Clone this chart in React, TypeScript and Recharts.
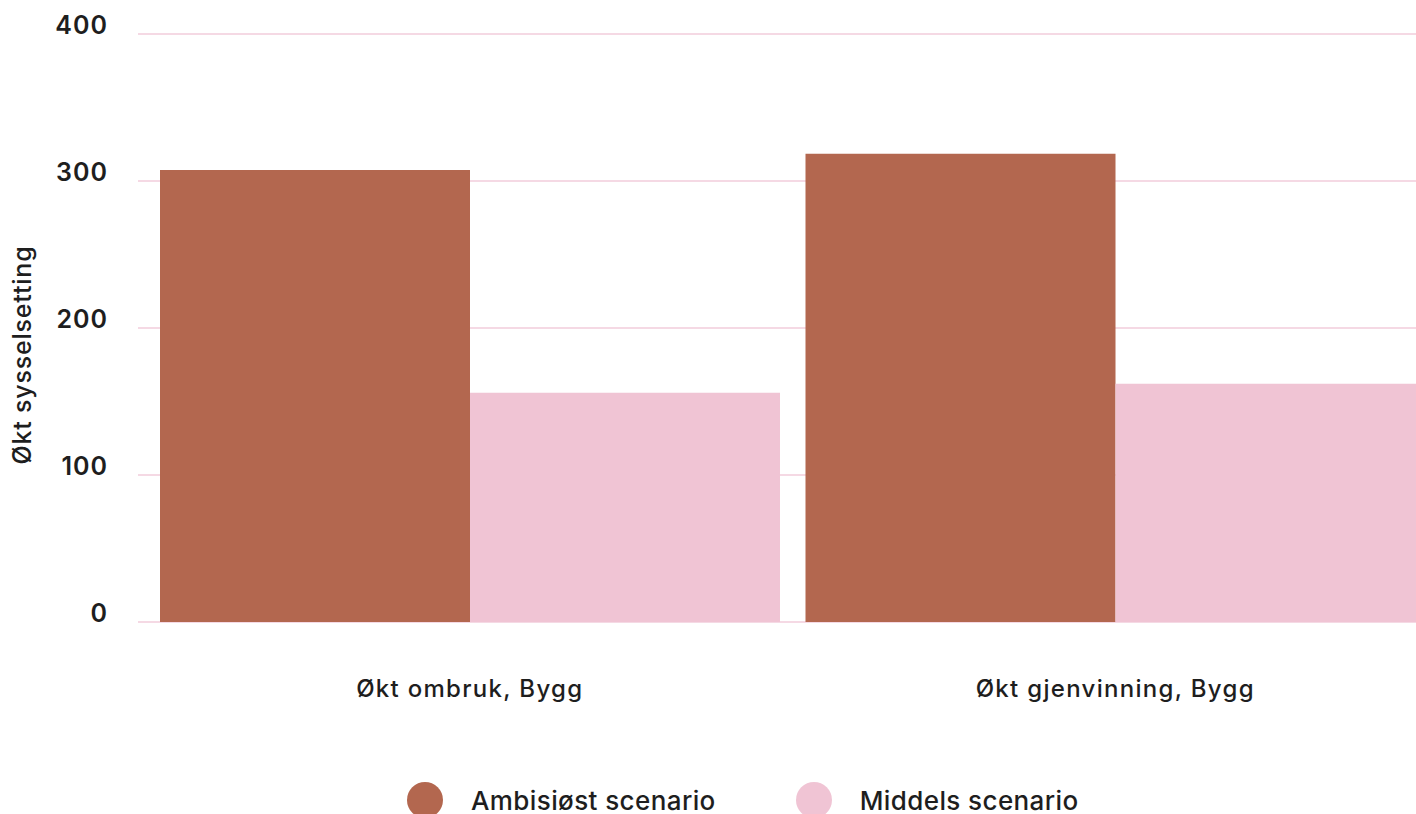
import React from "react";
import { BarChart, Bar, XAxis, YAxis, CartesianGrid, Legend } from "recharts";

const categories = ["Økt ombruk, Bygg", "Økt gjenvinning, Bygg"];
const ambisiost = [307.5, 318.5];
const middels = [156, 162];
const yTicks = [0, 100, 200, 300, 400];
const seriesNames = ["Ambisiøst scenario", "Middels scenario"];

const BROWN = "#B3674F";
const PINK = "#F0C4D4";
const TEXT = "#1e1e1e";
const FONT = "Inter, 'Noto Sans', sans-serif";

const data = categories.map((name, i) => ({
  name,
  ambisiost: ambisiost[i],
  middels: middels[i],
}));

const YLabel = (props: any) => {
  const { viewBox } = props;
  const x = viewBox.x + 22;
  const y = viewBox.y + viewBox.height / 2 + 27;
  return (
    <text
      x={x}
      y={y}
      transform={`rotate(-90 ${x} ${y})`}
      textAnchor="middle"
      dominantBaseline="central"
      fill={TEXT}
      fontSize={25}
      fontWeight={500}
      letterSpacing={0.8}
      fontFamily={FONT}
    >
      Økt sysselsetting
    </text>
  );
};

const renderLegend = (props: any) => {
  const { payload } = props;
  return (
    <div style={{ display: "flex", paddingLeft: 407, height: 68, fontFamily: FONT }}>
      {payload.map((entry: any, i: number) => (
        <div
          key={entry.value}
          style={{ display: "flex", alignItems: "center", height: 36, marginRight: i === 0 ? 80 : 0 }}
        >
          <span
            style={{ width: 36, height: 36, borderRadius: 18, background: entry.color, display: "inline-block" }}
          />
          <span style={{ marginLeft: 28, fontSize: 26, fontWeight: 500, letterSpacing: 0.4, color: TEXT }}>
            {entry.value}
          </span>
        </div>
      ))}
    </div>
  );
};

export default function App() {
  return (
    <div style={{ position: "fixed", left: 0, top: 0, width: 1416, height: 814, overflow: "hidden", background: "#fff" }}>
      <style>{`html, body { margin: 0; overflow: hidden; }`}</style>
      <BarChart
        width={1440}
        height={850}
        data={data}
        margin={{ top: 34, right: 2, left: 0, bottom: 0 }}
        barCategoryGap={13}
        barGap={0}
      >
        <CartesianGrid vertical={false} stroke="#F2CCDB" strokeWidth={1.5} />
        <XAxis
          dataKey="name"
          axisLine={false}
          tickLine={false}
          tickSize={0}
          tickMargin={58}
          height={160}
          padding={{ left: 9, right: 0 }}
          tick={{ fill: TEXT, fontSize: 24, fontWeight: 500, fontFamily: FONT, letterSpacing: 1.3 }}
        />
        <YAxis
          width={138}
          domain={[0, 400]}
          ticks={yTicks}
          axisLine={false}
          tickLine={false}
          tickSize={0}
          tickMargin={30}
          tick={{ fill: TEXT, fontSize: 25, fontWeight: 600, fontFamily: FONT, letterSpacing: 1, dy: -9 }}
          label={<YLabel />}
        />
        <Legend verticalAlign="bottom" content={renderLegend} />
        <Bar dataKey="ambisiost" name={seriesNames[0]} fill={BROWN} isAnimationActive={false} />
        <Bar dataKey="middels" name={seriesNames[1]} fill={PINK} isAnimationActive={false} />
      </BarChart>
    </div>
  );
}
